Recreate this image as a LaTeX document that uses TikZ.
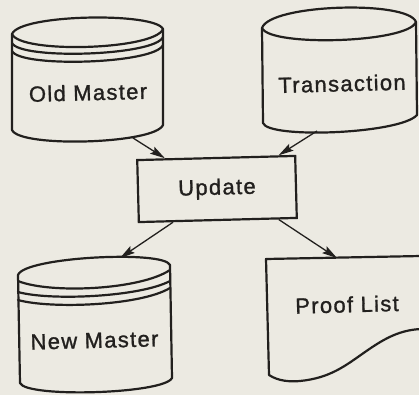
\documentclass[tikz,border=0pt]{standalone}
\usepackage{fontspec}
\setmainfont{Liberation Sans}[LetterSpace=6, FakeBold=1.2]
\usetikzlibrary{arrows.meta,calc}

\definecolor{paper}{RGB}{236,234,226}
\definecolor{ink}{RGB}{34,32,30}

\tikzset{
  outline/.style={draw=ink, line width=2.2pt, line join=round, line cap=round},
  label/.style={text=ink, font=\fontsize{22}{24}\selectfont, inner sep=0pt, rotate=1.5},
  procbox/.style={draw=ink, line width=2.2pt, minimum width=158pt, minimum height=62pt,
    inner sep=0pt, rotate=1.5, text=ink, font=\fontsize{22}{24}\selectfont},
  flow/.style={draw=ink, line width=1.3pt, -{Stealth[length=15pt, width=8pt, inset=2.5pt]}}
}

\begin{document}
\begin{tikzpicture}[x=1pt, y=-1pt]
  % paper
  \fill[paper] (0,0) rectangle (419,395);
  \useasboundingbox (0,0) rectangle (419,395);

  % Old Master: disk file with banded top
  \draw[outline] (12,34) .. controls (20,14) and (155,12) .. (163,29)
                 -- (163,125) .. controls (155,144) and (20,148) .. (12,130) -- cycle;
  \draw[outline] (12,34) .. controls (20,54) and (155,50) .. (163,29);
  \draw[outline] (12,43) .. controls (20,60) and (155,56) .. (163,37);
  \draw[outline] (12,51) .. controls (20,68) and (155,64) .. (163,45);
  \node[label] (oldm) at (88,92.5) {Old Master};

  % Transaction: plain disk file
  \draw[outline] (262,28) .. controls (270,4) and (408,0) .. (416,22)
                 -- (417,115) .. controls (400,134) and (268,139) .. (263,123) -- cycle;
  \draw[outline] (262,28) .. controls (270,47) and (408,43) .. (416,22);
  \node[label] (trans) at (342,83.5) {Transaction};

  % Update process box
  \node[procbox] (upd) at (217,189) {Update};

  % New Master: disk file with banded top
  \draw[outline] (18,275) .. controls (24,257) and (164,250) .. (170,265)
                 -- (172,378) .. controls (164,394) and (26,398) .. (20,383) -- cycle;
  \draw[outline] (18,281) .. controls (50,294) and (140,290) .. (170,270);
  \draw[outline] (18,292) .. controls (50,301) and (140,297) .. (170,281);
  \draw[outline] (18,300) .. controls (50,309) and (140,306) .. (170,288);
  \node[label] (newm) at (94.5,340.5) {New Master};

  % Proof List: printed document running off the right edge
  \draw[outline] (421,256) -- (266,259) -- (269,375)
                 .. controls (278,381) and (290,382) .. (300,381)
                 .. controls (330,378) and (345,366) .. (365,352)
                 .. controls (385,338) and (400,330) .. (421,329);
  \node[label] (proof) at (347,304.5) {Proof List};

  % connector end points on the file outlines
  \coordinate (oldm-out) at (133,138);
  \coordinate (trans-out) at (317,131);
  \coordinate (newm-in) at (120,258);
  \coordinate (proof-in) at (337,258);

  % data flow
  \draw[flow] (oldm-out) -- ($(upd.north west)!0.18!(upd.north east)$);
  \draw[flow] (trans-out) -- ($(upd.north west)!0.89!(upd.north east)$);
  \draw[flow] ($(upd.south west)!0.22!(upd.south east)$) -- (newm-in);
  \draw[flow] ($(upd.south west)!0.88!(upd.south east)$) -- (proof-in);
\end{tikzpicture}
\end{document}
